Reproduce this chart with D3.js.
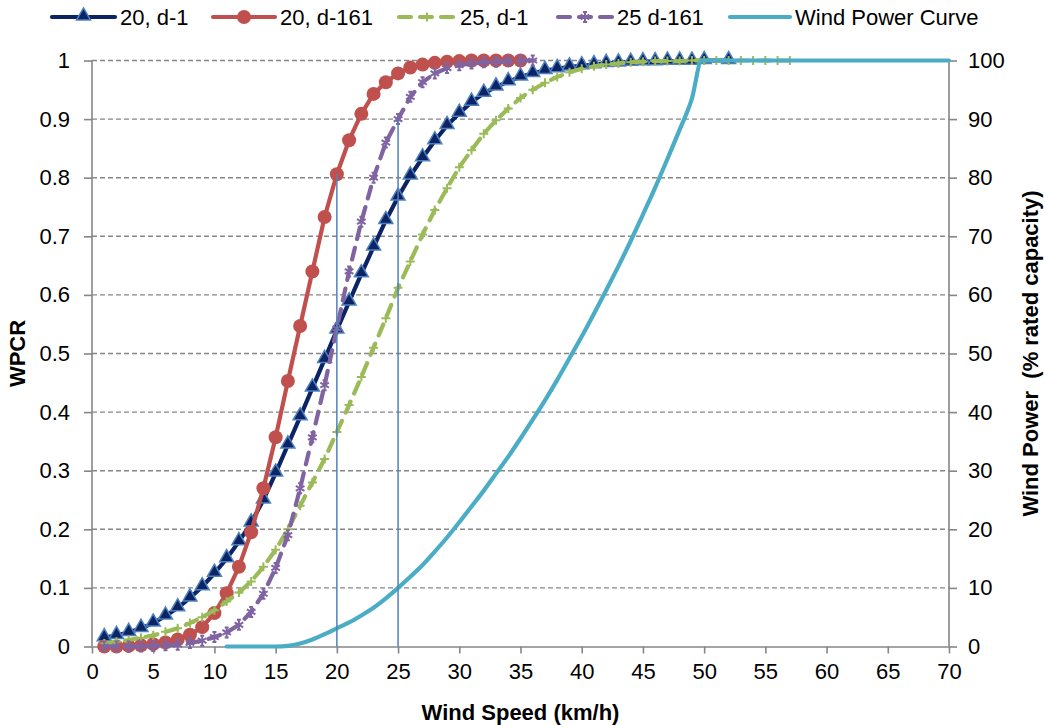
<!DOCTYPE html>
<html>
<head>
<meta charset="utf-8">
<script src="https://cdn.jsdelivr.net/npm/d3@7"></script>
<style>
body{margin:0;background:#fff;}
text{font-family:"Liberation Sans",Arial,sans-serif;fill:#000;}
</style>
</head>
<body>
<script>
var W=1045,H=725;
var m={left:92,right:96,top:60.5,bottom:78.5};

// wind speed (km/h) for each series
var xNavy=[1,2,3,4,5,6,7,8,9,10,11,12,13,14,15,16,17,18,19,20,21,22,23,24,25,26,27,28,29,30,31,32,33,34,35,36,37,38,39,40,41,42,43,44,45,46,47,48,49,50,52];
var navy=[0.015,0.019,0.024,0.031,0.040,0.052,0.066,0.083,0.102,0.125,0.150,0.179,0.211,0.250,0.296,0.344,0.392,0.441,0.490,0.540,0.588,0.636,0.682,0.727,0.767,0.803,0.834,0.863,0.889,0.910,0.929,0.944,0.955,0.964,0.972,0.978,0.983,0.986,0.989,0.991,0.993,0.995,0.996,0.997,0.998,0.998,0.999,0.999,0.999,1.000,1.000];

var xRed=[1,2,3,4,5,6,7,8,9,10,11,12,13,14,15,16,17,18,19,20,21,22,23,24,25,26,27,28,29,30,31,32,33,34,35];
var red=[0.000,0.000,0.001,0.002,0.004,0.007,0.012,0.020,0.033,0.057,0.091,0.136,0.195,0.270,0.357,0.453,0.547,0.640,0.733,0.806,0.864,0.909,0.943,0.963,0.978,0.988,0.993,0.996,0.998,0.999,1.000,1.000,1.000,1.000,1.000];

var xGreen=[1,2,3,4,5,6,7,8,9,10,11,12,13,14,15,16,17,18,19,20,21,22,23,24,25,26,27,28,29,30,31,32,33,34,35,36,37,38,39,40,41,42,43,44,45,46,47,48,49,50,51,52,53,54,55,56,57];
var green=[0.005,0.008,0.011,0.015,0.019,0.025,0.031,0.040,0.050,0.062,0.077,0.092,0.111,0.136,0.165,0.200,0.240,0.280,0.320,0.366,0.412,0.460,0.510,0.560,0.612,0.657,0.703,0.745,0.782,0.818,0.847,0.875,0.898,0.918,0.936,0.950,0.962,0.972,0.980,0.986,0.990,0.993,0.995,0.997,0.998,0.999,0.999,0.999,1.000,1.000,1.000,1.000,1.000,1.000,1.000,1.000,1.000];

var xPurple=[1,2,3,4,5,6,7,8,9,10,11,12,13,14,15,16,17,18,19,20,21,22,23,24,25,26,27,28,29,30,31,32,33,34,35,36];
var purple=[0.000,0.000,0.000,0.000,0.001,0.002,0.003,0.006,0.010,0.016,0.024,0.037,0.059,0.090,0.134,0.190,0.270,0.357,0.446,0.543,0.640,0.725,0.800,0.860,0.900,0.938,0.963,0.978,0.987,0.992,0.995,0.997,0.998,0.999,1.000,1.000];

// wind power curve, % rated capacity (right axis)
var xPower=[11,12,13,14,15,16,17,18,19,20,21,22,23,24,25,26,27,28,29,30,31,32,33,34,35,36,37,38,39,40,41,42,43,44,45,46,47,48,49,49.8,55,60,65,70];
var power=[0,0,0,0,0,0.1,0.5,1.2,2.1,3.1,4.1,5.3,6.6,8.2,10,11.9,13.9,16.2,18.6,21.2,23.9,26.6,29.5,32.4,35.5,38.7,42.0,45.5,49.2,52.9,56.8,60.8,64.9,69.2,73.7,78.3,83.2,88.2,93.5,100,100,100,100,100];

// reference lines: speed -> height
var refX=[20,25];
var refY=[0.806,0.900];

var xTicks=[0,5,10,15,20,25,30,35,40,45,50,55,60,65,70];
var yTicks=[0,0.1,0.2,0.3,0.4,0.5,0.6,0.7,0.8,0.9,1];
var y2Ticks=[0,10,20,30,40,50,60,70,80,90,100];

var names=["20, d-1","20, d-161","25, d-1","25 d-161","Wind Power Curve"];
var colors=["#0c2466","#c0504d","#9bbb59","#8064a2","#4bacc6"];

var FS='22px';
var svg=d3.select('body').append('svg').attr('width',W).attr('height',H);
var x=d3.scaleLinear().domain([0,70]).range([m.left,W-m.right]);
var y=d3.scaleLinear().domain([0,1]).range([H-m.bottom,m.top]);
var y2=d3.scaleLinear().domain([0,100]).range([H-m.bottom,m.top]);

// gridlines
svg.append('g').selectAll('line').data(yTicks.slice(1)).enter().append('line')
  .attr('x1',x(0)).attr('x2',x(70)).attr('y1',function(d){return y(d);}).attr('y2',function(d){return y(d);})
  .attr('stroke','#868686').attr('stroke-width',1.4).attr('stroke-dasharray','5,3');

// axes
var axisColor='#868686';
var gx=svg.append('g').attr('transform','translate(0,'+y(0)+')')
  .call(d3.axisBottom(x).tickValues(xTicks).tickSize(7).tickPadding(10).tickSizeOuter(0));
var gy=svg.append('g').attr('transform','translate('+x(0)+',0)')
  .call(d3.axisLeft(y).tickValues(yTicks).tickSize(8).tickPadding(14).tickSizeOuter(0).tickFormat(function(d){return d3.format('')(+d.toFixed(1));}));
var gy2=svg.append('g').attr('transform','translate('+x(70)+',0)')
  .call(d3.axisRight(y2).tickValues(y2Ticks).tickSize(8).tickPadding(11).tickSizeOuter(0));
[gx,gy,gy2].forEach(function(g){
  g.selectAll('path,line').attr('stroke',axisColor).attr('stroke-width',1.6);
  g.selectAll('text').style('font-size',FS).attr('fill','#000');
});
gy.select('.domain').attr('d','M0,'+y(0)+'V'+y(1));
gy2.select('.domain').attr('d','M0,'+y(0)+'V'+y(1));

// markers
function tri(s){return d3.symbol().type(d3.symbolTriangle).size(s)();}
var starPath='M0,-5V5M-4.3,-2.5L4.3,2.5M-4.3,2.5L4.3,-2.5M-2,-5H2M-2,5H2';
var plusPath='M-4.5,0H4.5M0,-4.5V4.5';

function series(xs,ys,i,dash,marker,sc){
  sc=sc||y;
  var pts=xs.map(function(d,k){return [d,ys[k]];});
  var g=svg.append('g');
  g.append('path').datum(pts)
    .attr('d',d3.line().x(function(d){return x(d[0]);}).y(function(d){return sc(d[1]);}).curve(marker?d3.curveLinear:d3.curveMonotoneX))
    .attr('fill','none').attr('stroke',colors[i]).attr('stroke-width',4.2)
    .attr('stroke-linecap','round').attr('stroke-linejoin','round')
    .attr('stroke-dasharray',dash?'12,9':null);
  if(marker){
    g.selectAll('.mk').data(pts).enter().append('g')
      .attr('transform',function(d){return 'translate('+x(d[0])+','+sc(d[1])+')';})
      .each(function(){marker(d3.select(this));});
  }
}

var markNavy=function(s){s.append('path').attr('d',tri(85)).attr('transform','translate(0,-1)').attr('fill','#0c2466').attr('stroke','#4f81bd').attr('stroke-width',1.5);};
var markRed=function(s){s.append('circle').attr('r',7).attr('fill','#c0504d');};
var markGreen=function(s){s.append('path').attr('d',plusPath).attr('stroke','#9bbb59').attr('stroke-width',2);};
var markPurple=function(s){s.append('path').attr('d',starPath).attr('stroke','#8064a2').attr('stroke-width',2);};

series(xNavy,navy,0,false,markNavy);
series(xRed,red,1,false,markRed);
series(xGreen,green,2,true,markGreen);
series(xPurple,purple,3,true,markPurple);
series(xPower,power,4,false,null,y2);

// vertical reference lines
svg.append('g').selectAll('line').data(refX).enter().append('line')
  .attr('x1',function(d){return x(d);}).attr('x2',function(d){return x(d);})
  .attr('y1',y(0)).attr('y2',function(d,i){return y(refY[i]);})
  .attr('stroke','#4f81bd').attr('stroke-width',1.5);

// axis titles
svg.append('text').attr('x',(x(0)+x(70))/2).attr('y',720).attr('text-anchor','middle')
  .style('font-size',FS).style('font-weight','bold').text('Wind Speed (km/h)');
svg.append('text').attr('transform','translate(25,'+(y(0.5))+') rotate(-90)').attr('text-anchor','middle')
  .style('font-size',FS).style('font-weight','bold').text('WPCR');
svg.append('text').attr('transform','translate(1038,'+(y(0.5))+') rotate(-90)').attr('text-anchor','middle')
  .style('font-size',FS).style('font-weight','bold').style('white-space','pre').text('Wind Power  (% rated capacity)');

// legend
var legX=[52,213,399,558,730];
var legW=[63,62,56,54,60];
var markers=[markNavy,markRed,markGreen,markPurple,null];
var lg=svg.append('g');
names.forEach(function(n,i){
  var g=lg.append('g').attr('transform','translate('+legX[i]+',17)');
  g.append('line').attr('x1',0).attr('x2',legW[i]).attr('y1',0).attr('y2',0)
    .attr('stroke',colors[i]).attr('stroke-width',4.2).attr('stroke-linecap','round')
    .attr('stroke-dasharray',(i==2||i==3)?'12,9':null);
  if(markers[i]){markers[i](g.append('g').attr('transform','translate('+legW[i]/2+',0)'));}
  g.append('text').attr('x',legW[i]+5).attr('y',8).style('font-size',FS).text(n);
});
</script>
</body>
</html>
